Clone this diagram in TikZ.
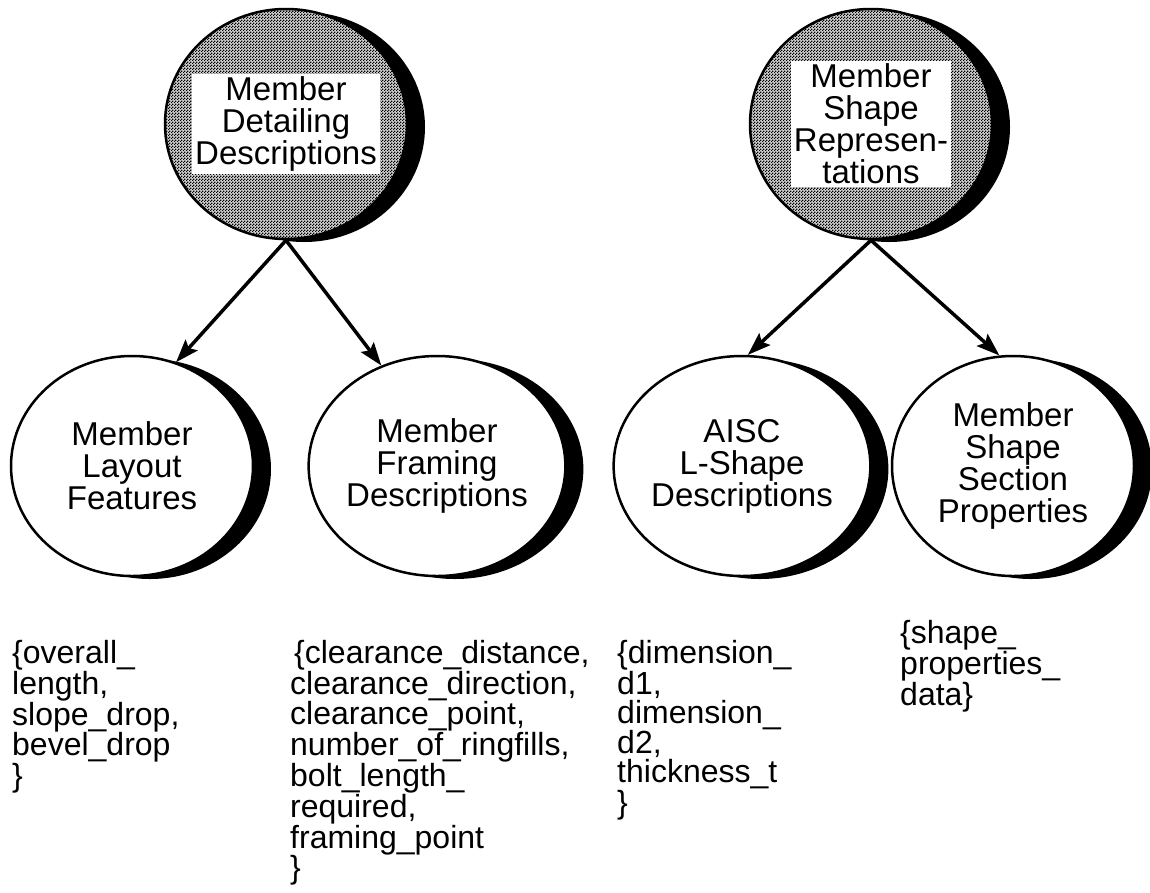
\documentclass[tikz,border=0pt]{standalone}
\usepackage{fontspec}
\setmainfont{Liberation Sans}
\usetikzlibrary{shapes.geometric,arrows.meta,shadows,patterns}

% fine halftone for the group circles
\pgfdeclarepatternformonly{halftone}{\pgfpointorigin}{\pgfqpoint{3pt}{3pt}}{\pgfqpoint{3pt}{3pt}}{%
  \pgfpathrectangle{\pgfpointorigin}{\pgfqpoint{1.5pt}{1.5pt}}%
  \pgfpathrectangle{\pgfqpoint{1.5pt}{1.5pt}}{\pgfqpoint{1.5pt}{1.5pt}}%
  \pgfusepath{fill}}

\tikzset{
  topic/.style={ellipse, draw, line width=2.5pt, fill=white,
    minimum width=242pt, minimum height=220pt, inner sep=0pt,
    align=center, font=\fontsize{33}{32}\selectfont,
    drop shadow={shadow xshift=18pt, shadow yshift=-3pt, fill=black, opacity=1}},
  group/.style={topic, fill=none, minimum height=230pt,
    preaction={fill=gray!35}, pattern=halftone},
  heading/.style={fill=white, inner sep=3pt, align=center,
    font=\fontsize{33}{32}\selectfont},
  slots/.style={anchor=north west, align=left, inner sep=0pt,
    font=\fontsize{32}{29}\selectfont},
  link/.style={line width=3.5pt, -{Stealth[length=23pt,width=16pt,inset=4pt]}},
}

\begin{document}
\begin{tikzpicture}[x=1pt, y=-1pt]
  \useasboundingbox (0,0) rectangle (1150,892);

  % the two groups on top
  \node[group] (detail) at (286,124) {};
  \node[heading] (detailtxt) at (detail) {Member\\Detailing\\Descriptions};
  \node[group] (shape) at (871,124) {};
  \node[heading] (shapetxt) at (shape) {Member\\Shape\\Represen-\\tations};

  % their members
  \node[topic] (layout) at (132,466) {Member\\Layout\\Features};
  \node[topic] (framing) at (437,466) {Member\\Framing\\Descriptions};
  \node[topic] (aisc) at (742,466) {AISC\\L-Shape\\Descriptions};
  \node[topic] (section) at (1013,466) {Member\\Shape\\Section\\Properties};

  \draw[link] (detail.south) -- (layout.67);
  \draw[link] (detail.south) -- (framing.119);
  \draw[link] (shape.south) -- (aisc.87);
  \draw[link] (shape.south) -- (section.97);

  % attribute lists
  \node[slots] (layoutatt) at (12,640) {\{overall\_\\length,\\slope\_drop,\\bevel\_drop\\\}};
  \node[slots] (framingatt) at (290,640) {\hspace{4pt}\{clearance\_distance,\\clearance\_direction,\\clearance\_point,\\number\_of\_ringfills,\\bolt\_length\_\\required,\\framing\_point\\\}};
  \node[slots] (aiscatt) at (617,640) {\{dimension\_\\d1,\\dimension\_\\d2,\\thickness\_t\\\}};
  \node[slots] (sectionatt) at (900,620) {\{shape\_\\properties\_\\data\}};
\end{tikzpicture}
\end{document}
